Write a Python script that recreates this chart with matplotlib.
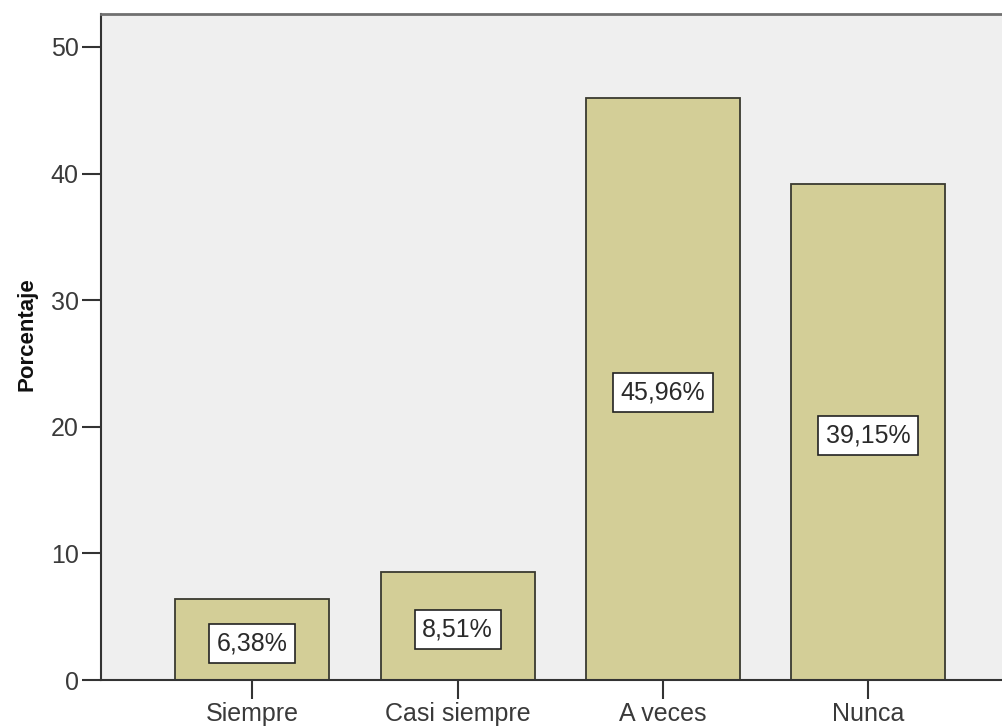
import matplotlib
matplotlib.use('Agg')
import matplotlib.pyplot as plt
import numpy as np

# datos
categorias = ['Siempre', 'Casi siempre', 'A veces', 'Nunca']
porcentajes = [6.38, 8.51, 45.96, 39.15]
etiquetas = ['6,38%', '8,51%', '45,96%', '39,15%']
yticks = [0, 10, 20, 30, 40, 50]

plt.rcParams['font.family'] = ['Liberation Sans', 'DejaVu Sans']

fig = plt.figure(figsize=(10.02, 7.27), dpi=100)
ax = fig.add_axes([101/1002, 1 - 680/727, 1 - 101/1002 + 0.01, (680 - 14)/727])
ax.set_facecolor('#EFEFEF')

x = np.arange(len(categorias))
ax.bar(x, porcentajes, width=0.75, color='#D3CE97', edgecolor='#3A3A30', linewidth=1.3, zorder=2)
for xi, v, t in zip(x, porcentajes, etiquetas):
    ax.text(xi, v / 2 - 0.3, t, ha='center', va='center', fontsize=18, color='#2A2A2A',
            bbox=dict(boxstyle='square,pad=0.3', facecolor='white', edgecolor='#222222', linewidth=1.2),
            zorder=3)

ax.set_xlim(-0.737, 3.7)
ax.set_ylim(0, 52.6)
ax.set_xticks(x)
ax.set_xticklabels(categorias, fontsize=18, color='#3A3A3A')
ax.set_yticks(yticks)
ax.set_yticklabels([str(t) for t in yticks], fontsize=18, color='#3A3A3A')
ax.tick_params(axis='both', direction='out', length=14, width=1.5, color='#333333', pad=2)
ax.set_ylabel('Porcentaje', fontsize=16, fontweight='bold', color='#111111')
ax.yaxis.set_label_coords(-0.07, 0.52)

for s in ['left', 'bottom']:
    ax.spines[s].set_color('#333333')
    ax.spines[s].set_linewidth(1.5)
ax.spines['top'].set_color('#707070')
ax.spines['top'].set_linewidth(2)
ax.spines['right'].set_visible(False)

fig.savefig('out.png', dpi=100)
